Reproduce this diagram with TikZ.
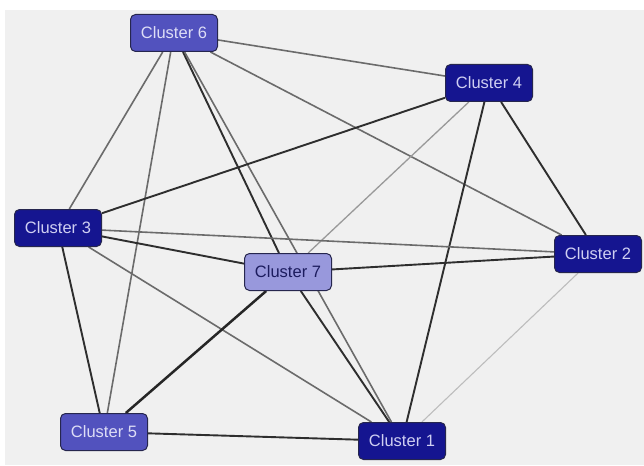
\documentclass[tikz,border=0pt]{standalone}
\usepackage{fontspec}
\setmainfont{Liberation Sans}
\pgfdeclarelayer{back}
\pgfdeclarelayer{edges}
\pgfsetlayers{back,edges,main}
\definecolor{bggray}{HTML}{F0F0F0}
\definecolor{navy}{HTML}{151590}
\definecolor{midblue}{HTML}{5252BE}
\definecolor{lightblue}{HTML}{9898DC}
\definecolor{navytext}{HTML}{CFCFF2}
\definecolor{midtext}{HTML}{DDDDF6}
\definecolor{lighttext}{HTML}{1C1C5E}
\definecolor{boxborder}{HTML}{26264E}
\tikzset{
  cbox/.style={draw=boxborder, line width=1pt, rounded corners=5pt,
    minimum width=87pt, minimum height=37pt, inner sep=0pt,
    font=\fontsize{16.5}{18}\selectfont},
  navybox/.style={cbox, fill=navy, text=navytext},
  midbox/.style={cbox, fill=midblue, text=midtext},
  lightbox/.style={cbox, fill=lightblue, text=lighttext},
  darkedge/.style={draw=black!82, line width=1.9pt},
  thickedge/.style={draw=black!85, line width=2.5pt},
  grayedge/.style={draw=black!58, line width=1.6pt},
  lightedge/.style={draw=black!40, line width=1.3pt},
  faintedge/.style={draw=black!26, line width=1.1pt},
}
\begin{document}
\begin{tikzpicture}[x=1pt,y=-1pt]
\begin{pgfonlayer}{back}
  \fill[white] (0,0) rectangle (644,465);
  \fill[bggray] (5,10) rectangle (644,465);
\end{pgfonlayer}
\useasboundingbox (0,0) rectangle (644,465);

\node[midbox]   (c6) at (174,33)  {Cluster 6};
\node[navybox]  (c4) at (489,83)  {Cluster 4};
\node[navybox]  (c3) at (58,228)  {Cluster 3};
\node[lightbox] (c7) at (288,272) {Cluster 7};
\node[navybox]  (c2) at (598,254) {Cluster 2};
\node[midbox]   (c5) at (104,432) {Cluster 5};
\node[navybox]  (c1) at (402,441) {Cluster 1};

\begin{pgfonlayer}{edges}
  \draw[grayedge]  (c6) -- (c4);
  \draw[grayedge]  (c6) -- (c3);
  \draw[grayedge]  (c6) -- (c5);
  \draw[darkedge]  (c6) -- (c7);
  \draw[grayedge]  (c6) -- (c1);
  \draw[grayedge]  (c6) -- (c2);
  \draw[darkedge]  (c4) -- (c3);
  \draw[lightedge] (c4) -- (c7);
  \draw[darkedge]  (c4) -- (c1);
  \draw[darkedge]  (c4) -- (c2);
  \draw[grayedge]  (c3) -- (c2);
  \draw[darkedge]  (c3) -- (c7);
  \draw[darkedge]  (c3) -- (c5);
  \draw[grayedge]  (c3) -- (c1);
  \draw[darkedge]  (c7) -- (c2);
  \draw[thickedge] (c7) -- (c5);
  \draw[darkedge]  (c7) -- (c1);
  \draw[faintedge] (c2) -- (c1);
  \draw[darkedge]  (c5) -- (c1);
\end{pgfonlayer}
\end{tikzpicture}
\end{document}
